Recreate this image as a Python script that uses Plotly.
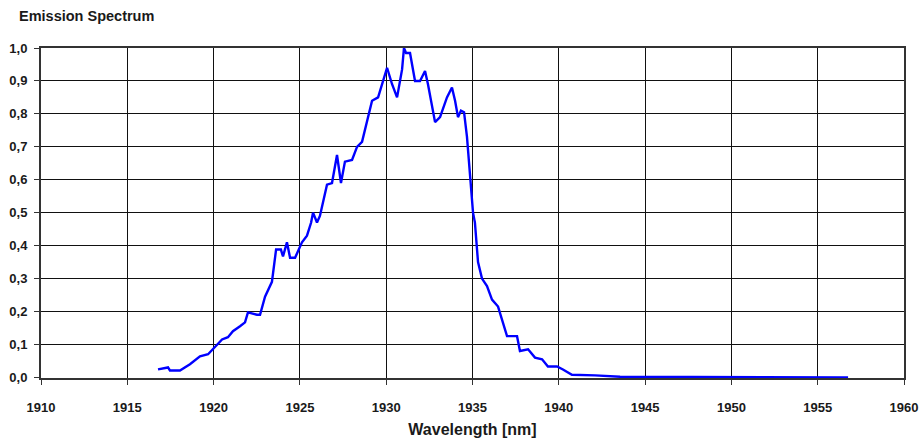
import plotly.graph_objects as go

wavelength_nm = [
    1916.78, 1917.07, 1917.36, 1917.47, 1918.05, 1918.63, 1919.21, 1919.68, 1919.97,
    1920.49, 1920.83, 1921.12, 1921.53, 1921.82, 1921.99, 1922.51, 1922.69, 1922.98,
    1923.38, 1923.62, 1923.90, 1924.02, 1924.25, 1924.43, 1924.72, 1925.12, 1925.41,
    1925.65, 1925.76, 1925.99, 1926.16, 1926.57, 1926.86, 1927.15, 1927.38, 1927.61,
    1928.02, 1928.31, 1928.60, 1928.89, 1929.18, 1929.53, 1929.76, 1930.05, 1930.34,
    1930.63, 1930.92, 1931.03, 1931.15, 1931.38, 1931.67, 1931.96, 1932.25, 1932.42,
    1932.83, 1933.12, 1933.52, 1933.81, 1933.99, 1934.16, 1934.33, 1934.51, 1934.68,
    1934.86, 1935.03, 1935.14, 1935.32, 1935.55, 1935.84, 1936.13, 1936.48, 1937.00,
    1937.58, 1937.75, 1938.22, 1938.62, 1939.03, 1939.37, 1939.90, 1940.24, 1940.76,
    1942.10, 1943.55, 1956.76,
]
intensity = [
    0.024, 0.027, 0.030, 0.021, 0.021, 0.040, 0.064, 0.070, 0.085,
    0.115, 0.122, 0.140, 0.155, 0.167, 0.197, 0.190, 0.190, 0.245,
    0.290, 0.388, 0.388, 0.367, 0.410, 0.363, 0.363, 0.410, 0.430,
    0.470, 0.500, 0.470, 0.490, 0.585, 0.590, 0.675, 0.590, 0.655,
    0.660, 0.700, 0.715, 0.780, 0.840, 0.850, 0.890, 0.940, 0.890,
    0.850, 0.935, 1.000, 0.985, 0.985, 0.900, 0.900, 0.930, 0.890,
    0.775, 0.790, 0.850, 0.880, 0.840, 0.790, 0.810, 0.805, 0.730,
    0.610, 0.500, 0.470, 0.350, 0.300, 0.277, 0.236, 0.215, 0.125,
    0.125, 0.080, 0.085, 0.060, 0.055, 0.033, 0.033, 0.024, 0.008,
    0.006, 0.002, 0.000,
]

x_ticks = [1910, 1915, 1920, 1925, 1930, 1935, 1940, 1945, 1950, 1955, 1960]
y_ticks = [0.0, 0.1, 0.2, 0.3, 0.4, 0.5, 0.6, 0.7, 0.8, 0.9, 1.0]

fig = go.Figure()
fig.add_trace(go.Scatter(
    x=wavelength_nm, y=intensity, mode="lines",
    line=dict(color="#0000ff", width=2.4, shape="linear"),
    showlegend=False, hoverinfo="x+y",
))

font_family = "Liberation Sans, Arial, sans-serif"
text_color = "#1a1a1a"

fig.update_layout(
    width=924, height=445,
    margin=dict(l=41, r=20, t=48, b=67, autoexpand=False),
    paper_bgcolor="white", plot_bgcolor="white",
    separators=",.",
    font=dict(family=font_family, size=13, color=text_color),
    title=dict(text="<b>Emission Spectrum</b>", x=0, xref="container", xanchor="left",
               y=1, yref="container", yanchor="top",
               pad=dict(l=19, t=11),
               font=dict(size=14.5, color=text_color)),
    xaxis=dict(
        range=[1910, 1960], tickmode="array", tickvals=x_ticks,
        ticktext=["<b>%d</b>" % v for v in x_ticks],
        showgrid=True, gridcolor="#111111", gridwidth=1,
        showline=True, linecolor="#333333", linewidth=2, mirror=True,
        ticks="outside", ticklen=5, tickcolor="#333333", tickwidth=1,
        zeroline=False, layer="below traces", automargin=False,
        ticklabelstandoff=11,
        tickfont=dict(size=13, color=text_color),
        title=dict(text="<b>Wavelength [nm]</b>", font=dict(size=16, color=text_color),
                   standoff=10),
    ),
    yaxis=dict(
        range=[-0.002, 1.0], tickmode="array", tickvals=y_ticks,
        ticktext=["<b>%s</b>" % ("%.1f" % v).replace(".", ",") for v in y_ticks],
        showgrid=True, gridcolor="#111111", gridwidth=1,
        showline=True, linecolor="#333333", linewidth=2, mirror=True,
        ticks="outside", ticklen=5, tickcolor="#333333", tickwidth=1,
        zeroline=False, layer="below traces", automargin=False,
        ticklabelstandoff=4,
        tickfont=dict(size=13, color=text_color),
    ),
)

fig.write_html("out.html",
               config={"displayModeBar": False},
               post_script="document.body.style.margin='0';document.body.style.overflow='hidden';")
